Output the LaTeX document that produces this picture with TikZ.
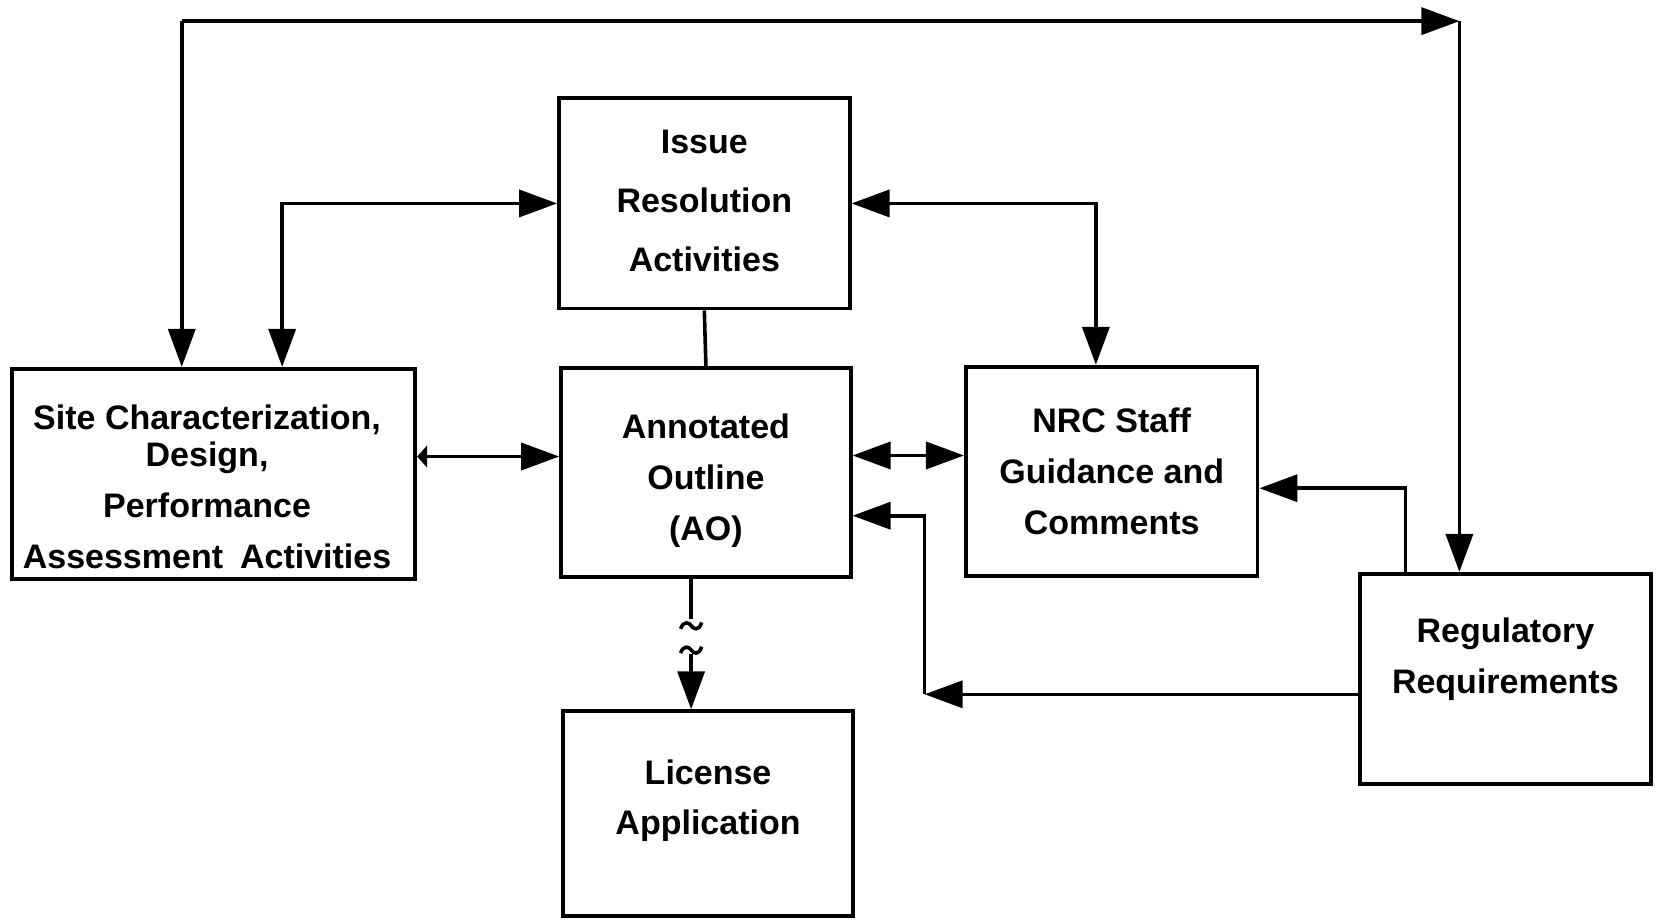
\documentclass[tikz,border=0pt]{standalone}
\usepackage{fontspec}
\setmainfont{Liberation Sans}
\usetikzlibrary{arrows.meta}
\begin{document}
\begin{tikzpicture}[x=0.5284pt,y=-0.5284pt,
  box/.style={draw,line width=1.9pt,rectangle,inner sep=0pt},
  txt/.style={inner sep=0pt,align=center,font=\bfseries\fontsize{17}{25.4}\selectfont},
  sz/.style 2 args={minimum width=#1*0.5284pt,minimum height=#2*0.5284pt},
  conn/.style={line width=1.8pt},
  >={Triangle[length=19pt,width=13.5pt]},
  smalltip/.tip={Triangle[length=5pt,width=11pt]}
]
\useasboundingbox (0,0) rectangle (1568,870);
% boxes
\node[box,sz={275}{199}] (issue) at (666.5,192.5) {};
\node[box,sz={382}{199}] (site) at (202,448.5) {};
\node[box,sz={274}{198}] (ao) at (668,447) {};
\node[box,sz={276}{198}] (nrc) at (1052,446) {};
\node[box,sz={275}{199}] (reg) at (1424.5,642.5) {};
\node[box,sz={274}{194}] (lic) at (670,770) {};
% texts
\node[txt,yshift=1.3pt] (issue-t) at (issue.center) {Issue\\[4.2pt]Resolution\\[4.2pt]Activities};
\node[txt,yshift=-6.3pt,xshift=-3.2pt] (site-t) at (site.center) {Site Characterization,\\[-6.9pt]Design,\\Performance\\Assessment\enspace Activities};
\node[txt,yshift=-4.2pt] (ao-t) at (ao.center) {Annotated\\Outline\\(AO)};
\node[txt] (nrc-t) at (nrc.center) {NRC Staff\\Guidance and\\Comments};
\node[txt,yshift=10pt] (reg-t) at (reg.center) {Regulatory\\Requirements};
\node[txt,yshift=6.5pt] (lic-t) at (lic.center) {License\\Application};
% coordinates
\coordinate (tl) at (172,20);
\coordinate (tr) at (1381,20);
\coordinate (bend) at (875,657);
\coordinate (sq1) at (654,586);
\coordinate (sq2) at (654,619);
% connectors
\draw[conn,->] (tl) -- (tr);
\draw[conn,->] (tl) -- (site.north -| tl);
\draw[conn,->] (tr) -- (reg.north -| tr);
\draw[conn,<->] (site.north -| 267,0) |- (issue.west);
\draw[conn,<->] (issue.east) -| (nrc.north -| 1037,0);
\draw[conn] (issue.south) -- (ao.north);
\draw[conn,{smalltip}->] (site.east |- 0,432) -- (ao.west |- 0,432);
\draw[conn,<->] (ao.east |- 0,431) -- (nrc.west |- 0,431);
\draw[conn,->] (reg.north -| 1330,0) |- (nrc.east |- 0,462);
\draw[conn,->] (reg.west |- bend) -- (bend);
\draw[conn,->] (bend) |- (ao.east |- 0,488);
% AO to license with break marks
\draw[conn] (ao.south -| sq1) -- (sq1);
\draw[conn] (644,595) .. controls (647,587) and (652,589) .. (654,592) .. controls (656,595) and (661,598) .. (664,589);
\draw[conn] (644,618) .. controls (647,610) and (652,612) .. (654,615) .. controls (656,618) and (661,621) .. (664,612);
\draw[conn,->] (sq2) -- (lic.north -| sq2);
\end{tikzpicture}
\end{document}
